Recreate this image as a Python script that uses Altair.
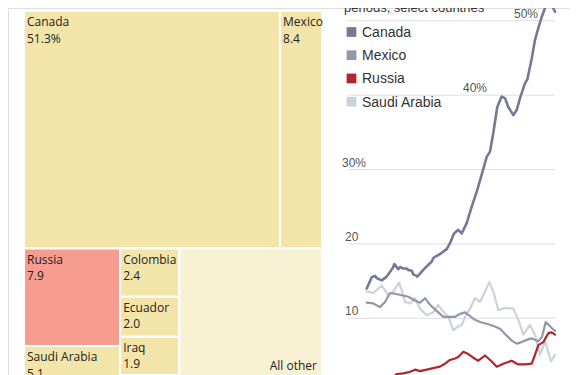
import altair as alt
import pandas as pd

# ---------------- data ----------------
# Treemap: share of imports, by country
tm_names = ["Canada", "Mexico", "Russia", "Saudi Arabia", "Colombia", "Ecuador", "Iraq", "", "All other"]
tm_values = [51.3, 8.4, 7.9, 5.1, 2.4, 2.0, 1.9, 1.7, 19.3]
tm_value_labels = ["51.3%", "8.4", "7.9", "5.1", "2.4", "2.0", "1.9", "", ""]
# layout grouping: rows -> columns -> stacked items
tm_groups = [
    [["Canada"], ["Mexico"]],
    [["Russia", "Saudi Arabia"], ["Colombia", "Ecuador", "Iraq", ""], ["All other"]],
]

# Line chart: share over rolling periods, select countries
canada_year = [1996.00, 1996.70, 1997.17, 1997.41, 1998.11, 1998.82, 1999.75, 1999.89, 2000.45, 2000.69,
               2001.15, 2001.63, 2001.86, 2002.34, 2002.56, 2003.04, 2003.13, 2003.97, 2004.68, 2005.15,
               2005.38, 2005.86, 2006.08, 2006.56, 2007.27, 2007.73, 2008.30, 2008.90, 2009.38, 2010.08,
               2010.79, 2011.49, 2012.20, 2012.90, 2013.37, 2013.83, 2014.39, 2015.01, 2015.48, 2015.94,
               2016.65, 2017.13, 2017.59, 2018.30, 2018.62, 2019.24, 2019.70, 2020.17, 2020.65, 2021.11,
               2021.58, 2022.06, 2022.52]
canada_share = [14.0, 15.5, 15.7, 15.4, 15.1, 15.6, 16.9, 17.3, 16.6, 16.9,
                16.7, 16.7, 16.5, 16.4, 15.9, 15.7, 15.6, 16.5, 17.2, 17.6,
                18.1, 18.4, 18.5, 18.8, 19.3, 20.1, 21.4, 21.9, 21.4, 22.8,
                25.0, 27.0, 29.3, 31.7, 32.4, 34.9, 38.4, 39.8, 39.6, 38.4,
                37.3, 38.0, 39.6, 41.6, 42.1, 44.9, 47.4, 49.0, 50.5, 51.7,
                52.8, 52.1, 51.2]

mexico_year = [1996.00, 1996.93, 1997.87, 1998.58, 1999.28, 1999.99, 2000.93, 2001.86, 2002.80, 2003.51,
               2004.21, 2004.92, 2005.86, 2006.79, 2007.73, 2008.44, 2009.14, 2009.85, 2010.55, 2011.25,
               2011.96, 2013.13, 2014.07, 2014.77, 2015.48, 2016.42, 2017.13, 2017.83, 2018.54, 2019.24,
               2020.17, 2020.69, 2021.21, 2022.06, 2022.52]
mexico_share = [12.1, 12.0, 11.5, 12.2, 13.4, 13.3, 13.1, 12.9, 12.4, 12.1,
                12.7, 11.8, 11.0, 10.2, 10.2, 10.2, 10.6, 10.8, 10.3, 9.8,
                9.5, 9.2, 8.9, 8.6, 7.9, 7.0, 6.6, 6.8, 7.1, 7.3,
                6.9, 7.5, 9.5, 8.7, 8.3]

saudi_year = [1996.00, 1996.93, 1998.11, 1999.04, 1999.75, 2000.55, 2000.93, 2001.39, 2002.10, 2002.80,
              2003.51, 2004.45, 2005.38, 2006.08, 2006.79, 2007.49, 2008.20, 2008.90, 2009.38, 2009.99,
              2010.55, 2011.25, 2011.96, 2012.66, 2013.27, 2013.83, 2014.54, 2015.48, 2016.65, 2017.35,
              2018.06, 2019.00, 2019.70, 2020.41, 2021.11, 2021.96, 2022.52]
saudi_share = [13.6, 13.4, 14.4, 13.1, 13.6, 14.8, 13.8, 12.2, 12.0, 12.7,
               11.3, 10.4, 10.8, 11.8, 10.9, 10.2, 8.4, 8.9, 9.1, 10.5,
               11.3, 12.7, 12.2, 13.6, 14.9, 13.6, 11.1, 11.4, 11.3, 9.8,
               7.8, 9.1, 7.8, 5.1, 6.9, 4.2, 5.1]

russia_year = [1999.56, 2000.23, 2001.15, 2002.10, 2002.80, 2003.51, 2004.45, 2005.38, 2006.32, 2007.03,
               2007.73, 2008.44, 2008.90, 2009.61, 2010.31, 2011.01, 2011.72, 2012.66, 2013.61, 2014.31,
               2015.24, 2016.42, 2017.35, 2018.30, 2019.24, 2019.70, 2020.17, 2020.87, 2021.58, 2022.06,
               2022.52]
russia_share = [2.0, 2.5, 2.6, 2.8, 3.1, 2.9, 3.1, 3.3, 3.5, 3.9,
                4.4, 4.6, 4.8, 5.5, 5.2, 4.7, 4.3, 5.0, 4.2, 3.5,
                3.9, 4.3, 3.8, 3.8, 3.9, 5.1, 6.4, 6.8, 8.0, 8.1,
                7.8]

grid_values = [10, 20, 30, 40, 50]
grid_labels = ["10", "20", "30%", "40%", "50%"]
legend_names = ["Canada", "Mexico", "Russia", "Saudi Arabia"]
title_text = "periods, select countries"

# ---------------- styles ----------------
tm_fill_default = "#f3e5aa"
tm_fill = {"Russia": "#f69d90", "All other": "#f9f1d3"}
series_color = {"Canada": "#747a96", "Mexico": "#9397a9", "Russia": "#b3242b", "Saudi Arabia": "#cdd1dc"}
series_width = {"Canada": 2.6, "Mexico": 2.2, "Russia": 2.2, "Saudi Arabia": 2.2}
grid_label_x = {10: 337, 20: 337, 30: 334, 40: 455, 50: 506}
TM_FONT = "Open Sans"
LN_FONT = "Liberation Sans"

# ---------------- treemap layout ----------------
val = dict(zip(tm_names, tm_values))
lab = dict(zip(tm_names, tm_value_labels))
total = sum(tm_values)
rows = []
y = 0.0
for row in tm_groups:
    row_sum = sum(val[n] for col in row for n in col)
    h = row_sum / total
    x = 0.0
    for col in row:
        col_sum = sum(val[n] for n in col)
        w = col_sum / row_sum
        yy = y
        for n in col:
            hh = h * val[n] / col_sum
            rows.append({"name": n, "value": val[n], "label": lab[n],
                         "x0": x, "x1": x + w, "y0": yy, "y1": yy + hh,
                         "fill": tm_fill.get(n, tm_fill_default)})
            yy += hh
        x += w
    y += h
tm_df = pd.DataFrame(rows)

xs_tm = alt.Scale(domain=[0, 1], range=[16, 314])
ys_tm = alt.Scale(domain=[0, 1], range=[3, 401])

tm_base = alt.Chart(tm_df)
tm_rect = tm_base.mark_rect(stroke="white", strokeWidth=2).encode(
    x=alt.X("x0:Q", scale=xs_tm, axis=None), x2="x1:Q",
    y=alt.Y("y0:Q", scale=ys_tm, axis=None), y2="y1:Q",
    color=alt.Color("fill:N", scale=None),
)
named = tm_base.transform_filter("datum.name != '' && datum.name != 'All other'")
tm_name = named.mark_text(align="left", baseline="alphabetic", dx=3, dy=15,
                          font=TM_FONT, fontSize=12, color="#222222").encode(
    x=alt.X("x0:Q", scale=xs_tm, axis=None), y=alt.Y("y0:Q", scale=ys_tm, axis=None), text="name:N")
tm_val = named.mark_text(align="left", baseline="alphabetic", dx=3, dy=31.5,
                         font=TM_FONT, fontSize=12, color="#222222").encode(
    x=alt.X("x0:Q", scale=xs_tm, axis=None), y=alt.Y("y0:Q", scale=ys_tm, axis=None), text="label:N")
tm_other = tm_base.transform_filter("datum.name == 'All other'").mark_text(
    align="right", baseline="alphabetic", dx=-5, dy=-39,
    font=TM_FONT, fontSize=12, color="#222222").encode(
    x=alt.X("x1:Q", scale=xs_tm, axis=None), y=alt.Y("y1:Q", scale=ys_tm, axis=None), text="name:N")
treemap = alt.layer(tm_rect, tm_name, tm_val, tm_other)

# ---------------- line chart ----------------
series = {
    "Canada": (canada_year, canada_share),
    "Mexico": (mexico_year, mexico_share),
    "Russia": (russia_year, russia_share),
    "Saudi Arabia": (saudi_year, saudi_share),
}
xs_ln = alt.Scale(domain=[1996, 2022.52], range=[358.7, 547])
ys_ln = alt.Scale(domain=[0, 50], range=[384.7, 12.7])

grid_df = pd.DataFrame({"v": grid_values, "t": grid_labels})
grid = alt.Chart(grid_df).mark_rule(color="#dedede", strokeWidth=1).encode(
    y=alt.Y("v:Q", scale=ys_ln, axis=None), x=alt.value(340), x2=alt.value(547))
grid_text_layers = []
for v, t in zip(grid_values, grid_labels):
    grid_text_layers.append(
        alt.Chart(grid_df).transform_filter(f"datum.v == {v}").mark_text(
            align="left", baseline="alphabetic", dy=-3, font=LN_FONT, fontSize=12, color="#555555").encode(
            y=alt.Y("v:Q", scale=ys_ln, axis=None), x=alt.value(grid_label_x[v]), text="t:N"))

line_layers = []
for name in ["Saudi Arabia", "Mexico", "Russia", "Canada"]:
    yrs, vals = series[name]
    df = pd.DataFrame({"year": yrs, "share": vals})
    line_layers.append(
        alt.Chart(df).mark_line(color=series_color[name], strokeWidth=series_width[name],
                                strokeJoin="round", strokeCap="round", clip=False).encode(
            x=alt.X("year:Q", scale=xs_ln, axis=None),
            y=alt.Y("share:Q", scale=ys_ln, axis=None)))

lines = alt.layer(grid, *grid_text_layers, *line_layers)

# ---------------- legend ----------------
leg_df = pd.DataFrame({"series": legend_names})
ys_leg = alt.Scale(type="point", domain=legend_names, range=[24, 93.7], padding=0)
leg_sq = alt.Chart(leg_df).mark_square(size=95, opacity=1).encode(
    y=alt.Y("series:N", scale=ys_leg, axis=None), x=alt.value(343.5),
    color=alt.Color("series:N", scale=alt.Scale(domain=legend_names,
                                                 range=[series_color[n] for n in legend_names]), legend=None))
leg_tx = alt.Chart(leg_df).mark_text(align="left", baseline="alphabetic", dy=5,
                                     font=LN_FONT, fontSize=14, color="#333333").encode(
    y=alt.Y("series:N", scale=ys_leg, axis=None), x=alt.value(354), text="series:N")
legend = alt.layer(leg_sq, leg_tx)

title = alt.Chart(pd.DataFrame({"t": [title_text]})).mark_text(
    align="left", baseline="alphabetic", font=LN_FONT, fontSize=13, color="#333333").encode(
    x=alt.value(336), y=alt.value(4), text="t:N")

chart = alt.layer(treemap, lines, legend, title).resolve_scale(
    x="independent", y="independent", color="independent"
).properties(
    width=562, height=367, padding=0,
    autosize=alt.AutoSizeParams(type="none"),
).configure_view(stroke=None).configure(background="white")

chart.save("out.html", embed_options={"renderer": "svg", "actions": False})
